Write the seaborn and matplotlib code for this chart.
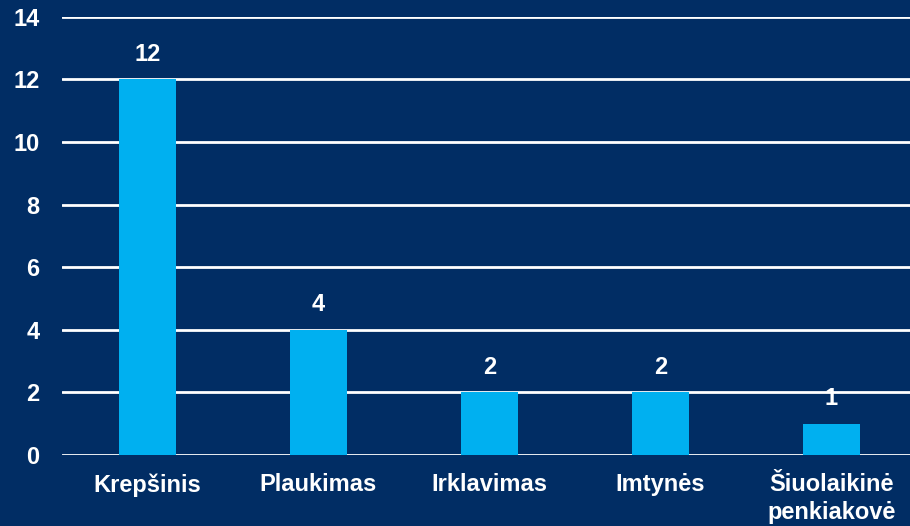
import matplotlib
matplotlib.use("Agg")
import matplotlib.pyplot as plt
import seaborn as sns
import pandas as pd

sports = ["Krepšinis", "Plaukimas", "Irklavimas", "Imtynės", "Šiuolaikinė\npenkiakovė"]
counts = [12, 4, 2, 2, 1]

bg = "#012D64"
bar_color = "#00B0F0"

sns.set_theme(style="white")
plt.rcParams["font.family"] = ["Liberation Sans", "DejaVu Sans"]
plt.rcParams["font.weight"] = "bold"

df = pd.DataFrame({"sport": sports, "count": counts})

fig = plt.figure(figsize=(9.1, 5.26), dpi=100, facecolor=bg)
ax = fig.add_axes([0.068, 0.135, 0.932, 0.833])
ax.set_facecolor(bg)

sns.barplot(data=df, x="sport", y="count", color=bar_color, width=0.33,
            saturation=1, linewidth=0, edgecolor="none", ax=ax, zorder=3)

ax.set_ylim(0, 14)
ax.set_yticks(range(0, 15, 2))
ax.set_xlim(-0.5, 4.46)
ax.yaxis.grid(True, color="white", linewidth=2, zorder=0)
ax.set_axisbelow(True)
for s in ax.spines.values():
    s.set_visible(False)
ax.set_xlabel("")
ax.set_ylabel("")
ax.tick_params(axis="both", length=0, colors="white", labelsize=17)
ax.tick_params(axis="y", pad=16)
ax.tick_params(axis="x", pad=13)
for lbl in ax.get_xticklabels() + ax.get_yticklabels():
    lbl.set_fontweight("bold")
    lbl.set_color("white")
    lbl.set_linespacing(1.25)

for c in ax.containers:
    ax.bar_label(c, padding=10, color="white", fontsize=17, fontweight="bold")

fig.savefig("out.png", dpi=100, facecolor=bg)
